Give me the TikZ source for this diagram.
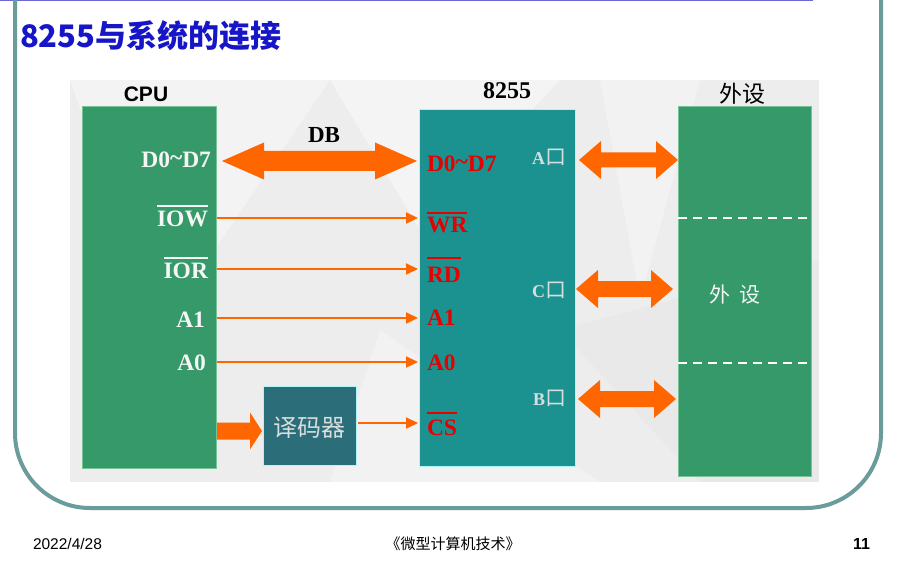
\documentclass[tikz,border=0pt]{standalone}
\usepackage{fontspec}
\setmainfont{Liberation Serif}
\newfontfamily\sansf{Liberation Sans}
\newfontfamily\cjk{Noto Sans CJK SC}
\usetikzlibrary{calc,arrows.meta}
\definecolor{cpug}{RGB}{53,153,106}
\definecolor{cpuedge}{RGB}{120,195,150}
\definecolor{chipc}{RGB}{28,146,144}
\definecolor{cyanedge}{RGB}{175,245,245}
\definecolor{decc}{RGB}{43,110,122}
\definecolor{orng}{RGB}{255,102,0}
\definecolor{redt}{RGB}{230,0,0}
\definecolor{titleb}{RGB}{22,22,200}
\definecolor{framec}{RGB}{107,156,156}
\definecolor{topl}{RGB}{105,105,215}
\definecolor{panelc}{RGB}{237,237,237}
\definecolor{portc}{RGB}{215,222,222}
\definecolor{whitet}{RGB}{245,245,245}
\newcommand\ovl[2][3.5pt]{\vbox{\hrule height 2pt\kern #1\hbox{#2}}}
% fat double arrow: start, end, half shaft, half head, head length
\newcommand\fatdbl[5]{%
  \fill[orng] let \p1=(#1), \p2=(#2) in
    (\x1,\y1) -- (\x1+#5,\y1+#4) -- (\x1+#5,\y1+#3) -- (\x2-#5,\y1+#3) -- (\x2-#5,\y1+#4) -- (\x2,\y1)
    -- (\x2-#5,\y1-#4) -- (\x2-#5,\y1-#3) -- (\x1+#5,\y1-#3) -- (\x1+#5,\y1-#4) -- cycle;}
% fat single arrow
\newcommand\fatone[5]{%
  \fill[orng] let \p1=(#1), \p2=(#2) in
    (\x1,\y1+#3) -- (\x2-#5,\y1+#3) -- (\x2-#5,\y1+#4) -- (\x2,\y1)
    -- (\x2-#5,\y1-#4) -- (\x2-#5,\y1-#3) -- (\x1,\y1-#3) -- cycle;}
\tikzset{
  blk/.style={draw, line width=1pt, inner sep=0pt, outer sep=0pt},
  clbl/.style={anchor=base east, text=whitet, font=\bfseries\fontsize{23.5}{24}\selectfont},
  rlbl/.style={anchor=base west, text=redt, font=\bfseries\fontsize{23.5}{24}\selectfont},
  plbl/.style={anchor=base east, text=portc, font=\bfseries\fontsize{18}{20}\selectfont},
  sig/.style={orng, line width=2pt, -{Triangle[length=12pt,width=11pt]}},
}
\newcommand\kou{{\cjk\mdseries\fontsize{21}{21}\selectfont 口}}
\begin{document}
\begin{tikzpicture}[x=1pt,y=-1pt, every node/.style={inner sep=0pt, outer sep=0pt}]
\useasboundingbox (0,0) rectangle (899,564);
\fill[white] (0,0) rectangle (899,564);
% top line and frame
\draw[topl, line width=1.5pt] (0,0.75) -- (813,0.75);
\draw[framec, line width=4pt, rounded corners=75pt] (15,-10) -- (15,508) -- (881,508) -- (881,-10);
% title
\node[anchor=west, text=titleb, font=\cjk\bfseries\fontsize{31}{34}\selectfont] (title) at (20,36) {8255与系统的连接};
% panel
\fill[panelc] (70,80) rectangle (819,482);
\fill[white, opacity=0.35] (70,80) -- (330,80) -- (160,330) -- cycle;
\fill[white, opacity=0.4] (330,80) -- (560,80) -- (420,230) -- cycle;
\fill[white, opacity=0.3] (600,80) -- (700,80) -- (640,300) -- cycle;
\fill[white, opacity=0.3] (380,330) -- (600,482) -- (330,482) -- cycle;
\fill[black, opacity=0.015] (560,330) -- (819,260) -- (819,482) -- (700,482) -- cycle;
% blocks
\node[blk, fill=cpug, draw=cpuedge, minimum width=134pt, minimum height=361pt] (cpu) at (149,287.5) {};
\node[blk, fill=chipc, draw=cyanedge, minimum width=156pt, minimum height=356pt] (chip) at (497,288) {};
\node[blk, fill=cpug, draw=cpuedge, minimum width=133pt, minimum height=369pt] (dev) at (744.5,291.5) {};
\node[blk, fill=decc, draw=cyanedge, minimum width=93pt, minimum height=79pt] (dec) at (309.5,425.5) {};
% block titles
\node[anchor=base, font=\sansf\bfseries\fontsize{21}{24}\selectfont] (cpuT) at (146,102) {CPU};
\node[anchor=base, font=\bfseries\fontsize{24}{26}\selectfont] (chipT) at (507,99) {8255};
\node[font=\cjk\fontsize{23}{26}\selectfont] (devT) at (742,94) {外设};
% dashed separators
\draw[white, line width=2pt, dash pattern=on 9pt off 6pt] (dev.west |- 0,218) coordinate (d1) -- (dev.east |- d1);
\draw[white, line width=2pt, dash pattern=on 9pt off 6pt] (dev.west |- 0,363) coordinate (d2) -- (dev.east |- d2);
\node[text=whitet, font=\cjk\fontsize{21}{24}\selectfont] (devIn) at (735,295) {外\hspace{9pt}设};
% decoder text
\node[text=portc, font=\cjk\fontsize{24}{26}\selectfont] (decT) at (309.5,428) {译码器};
% CPU labels
\node[clbl] (cD) at (211,168) {D0\raisebox{2pt}{\char`\~}D7};
\node[clbl] (cIOW) at (208,226) {\ovl{IOW}};
\node[clbl] (cIOR) at (208,278) {\ovl{IOR}};
\node[clbl] (cA1) at (205,327) {A1};
\node[clbl] (cA0) at (206,370) {A0};
% 8255 labels
\node[rlbl] (pD) at (427,172) {D0\raisebox{2pt}{\char`\~}D7};
\node[rlbl] (pWR) at (427,232) {\ovl[2.5pt]{WR}};
\node[rlbl] (pRD) at (427,282) {\ovl[8pt]{RD}};
\node[rlbl] (pA1) at (427,325) {A1};
\node[rlbl] (pA0) at (427,370) {A0};
\node[rlbl] (pCS) at (427,435) {\ovl[5pt]{CS}};
\node[plbl] (pA) at (566,165) {A\kou};
\node[plbl] (pC) at (566,297) {C\kou};
\node[plbl] (pB) at (566,405) {B\kou};
% DB label
\node[anchor=base, font=\bfseries\fontsize{23}{26}\selectfont] (dbT) at (324,143) {DB};
% row coordinates
\coordinate (rDB) at (0,161);
\coordinate (rIOW) at (0,218);
\coordinate (rIOR) at (0,269);
\coordinate (rA1) at (0,318);
\coordinate (rA0) at (0,362);
\coordinate (rCS) at (0,423);
\coordinate (rDec) at (0,431);
\coordinate (rA) at (0,160);
\coordinate (rC) at (0,289);
\coordinate (rB) at (0,399);
% fat arrows
\fatdbl{$(cpu.east |- rDB)+(6,0)$}{$(chip.west |- rDB)+(-2,0)$}{10pt}{18.5pt}{42pt}
\fatdbl{$(chip.east |- rA)+(4,0)$}{$(dev.west |- rA)$}{7.5pt}{19pt}{22pt}
\fatdbl{$(chip.east |- rC)+(1,0)$}{$(dev.west |- rC)+(-5,0)$}{8pt}{19pt}{22pt}
\fatdbl{$(chip.east |- rB)+(3,0)$}{$(dev.west |- rB)+(-2,0)$}{8pt}{19pt}{22pt}
\fatone{$(cpu.east |- rDec)+(1,0)$}{$(dec.west |- rDec)+(-1,0)$}{8.5pt}{18.5pt}{12pt}
% signal arrows
\draw[sig] ($(cpu.east |- rIOW)+(1,0)$) -- ($(chip.west |- rIOW)+(-1,0)$);
\draw[sig] ($(cpu.east |- rIOR)+(1,0)$) -- ($(chip.west |- rIOR)+(-1,0)$);
\draw[sig] ($(cpu.east |- rA1)+(1,0)$) -- ($(chip.west |- rA1)+(-1,0)$);
\draw[sig] ($(cpu.east |- rA0)+(1,0)$) -- ($(chip.west |- rA0)+(-1,0)$);
\draw[sig] ($(dec.east |- rCS)+(2,0)$) -- ($(chip.west |- rCS)+(-1,0)$);
% footer
\node[anchor=base west, font=\sansf\fontsize{15.5}{18}\selectfont] (date) at (33,549) {2022/4/28};
\node[anchor=base, font=\cjk\fontsize{15}{18}\selectfont] (book) at (453,549) {《微型计算机技术》};
\node[anchor=base east, font=\sansf\bfseries\fontsize{16}{18}\selectfont] (pg) at (870,549) {11};
\end{tikzpicture}
\end{document}
